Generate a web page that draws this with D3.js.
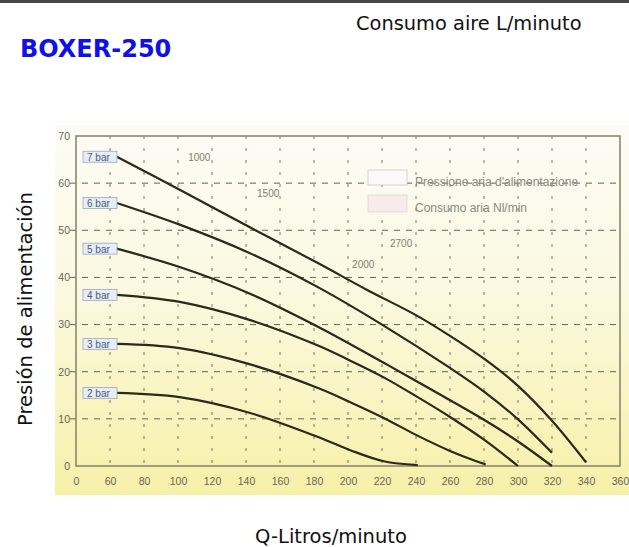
<!DOCTYPE html>
<html><head><meta charset="utf-8">
<script src="https://cdn.jsdelivr.net/npm/d3@7/dist/d3.min.js"></script>
<style>html,body{margin:0;padding:0;background:#fff;}svg{display:block;}</style>
</head><body>
<script>
// ---- data ----
const xTicks = [40,60,80,100,120,140,160,180,200,220,240,260,280,300,320,340,360];
const xTickLabels = ["0","60","80","100","120","140","160","180","200","220","240","260","280","300","320","340","360"];
const yTicks = [0,10,20,30,40,50,60,70];
const seriesNames = ["7 bar","6 bar","5 bar","4 bar","3 bar","2 bar"];
const bar7 = [[64,65.6],[101,58.6],[142,50.7],[182,43.1],[211,37.4],[241,31.8],[260,27.6],[281,22.5],[300,17.0],[320,9.6],[340,0.8]];
const bar6 = [[64,55.8],[101,51.2],[142,45.2],[182,38],[220,30],[260,20.8],[280,15.8],[300,9.9],[320,2.8]];
const bar5 = [[64,46.1],[101,42.2],[142,36.6],[182,29.6],[223,21.5],[250,16],[280,9.8],[300,5.2],[320,0]];
const bar4 = [[64,36.3],[101,34.8],[142,31],[182,25.6],[201,22.4],[221,18.8],[241,14.6],[260,10.4],[280,5.6],[300,0]];
const bar3 = [[64,25.9],[101,25],[142,21.6],[182,16.6],[201,13.6],[221,10.2],[240,6.6],[260,3.2],[281,0.3]];
const bar2 = [[64,15.5],[101,14.6],[142,11.3],[182,6.2],[201,3.4],[221,1.0],[241,0.2]];
const airLabels = ["1000","1500","2700","2000"];
const airLabelPos = [[106,64.7],[146.5,57.1],[224.7,46.5],[202.4,42.0]];
const legendLabels = ["Pressione aria d'alimentazione","Consumo aria Nl/min"];

// ---- layout ----
const W = 629, H = 547;
const svg = d3.select("body").append("svg").attr("width", W).attr("height", H);
const x = d3.scaleLinear().domain([40,360]).range([76,620]);
const y = d3.scaleLinear().domain([0,70]).range([466,136]);

svg.append("rect").attr("x",0).attr("y",0).attr("width",W).attr("height",3).attr("fill","#474747");

svg.append("text").attr("x",356).attr("y",30).attr("font-family","DejaVu Sans")
  .attr("font-size",19.4).attr("fill","#111").text("Consumo aire L/minuto");
svg.append("text").attr("x",20).attr("y",57).attr("font-family","DejaVu Sans")
  .attr("font-weight","bold").attr("font-size",24).attr("fill","#1010e8").text("BOXER-250");

// scanned-looking background
const defs = svg.append("defs");
const g = defs.append("linearGradient").attr("id","bg").attr("x1",0).attr("y1",0).attr("x2",0).attr("y2",1);
g.append("stop").attr("offset","0%").attr("stop-color","#fcfcf6");
g.append("stop").attr("offset","45%").attr("stop-color","#fbf9e0");
g.append("stop").attr("offset","100%").attr("stop-color","#f7f0a8");
svg.append("rect").attr("x",55).attr("y",125).attr("width",W-55).attr("height",370).attr("fill","url(#bg)");

// grid
const grid = svg.append("g");
grid.selectAll("line.h").data(yTicks.filter(d=>d>0&&d<70)).join("line")
  .attr("x1",70).attr("x2",620).attr("y1",d=>y(d)).attr("y2",d=>y(d))
  .attr("stroke","#4a4a40").attr("stroke-width",1).attr("stroke-dasharray","6,6").attr("opacity",0.85);
grid.selectAll("line.v").data(xTicks.slice(1,-1)).join("line")
  .attr("x1",d=>x(d)).attr("x2",d=>x(d)).attr("y1",136).attr("y2",466)
  .attr("stroke","#4a4a40").attr("stroke-width",1).attr("stroke-dasharray","3,9").attr("opacity",0.75);

// frame
svg.append("rect").attr("x",x(40)).attr("y",y(70)).attr("width",x(360)-x(40)).attr("height",y(0)-y(70))
  .attr("fill","none").attr("stroke","#8a8870").attr("stroke-width",1.6);

// axes
const xAxis = d3.axisBottom(x).tickValues(xTicks).tickSize(0).tickPadding(12)
  .tickFormat((d,i)=>xTickLabels[i]);
const xa = svg.append("g").attr("transform",`translate(0,${y(0)})`).call(xAxis);
xa.select(".domain").remove();
xa.selectAll("text").attr("font-family","Liberation Sans").attr("font-size",10.5).attr("fill","#66665a");
const yAxis = d3.axisLeft(y).tickValues(yTicks).tickSize(0).tickPadding(6);
const ya = svg.append("g").attr("transform",`translate(${x(40)},0)`).call(yAxis);
ya.select(".domain").remove();
ya.selectAll("text").attr("font-family","Liberation Sans").attr("font-size",10.5).attr("fill","#66665a");

// curves
const series = [bar7,bar6,bar5,bar4,bar3,bar2];
const line = d3.line().x(d=>x(d[0])).y(d=>y(d[1])).curve(d3.curveCatmullRom.alpha(0.5));
svg.append("g").selectAll("path").data(series).join("path")
  .attr("d",line).attr("fill","none").attr("stroke","#2a2a1c").attr("stroke-width",2.2);

// series labels
const lab = svg.append("g").selectAll("g").data(series).join("g")
  .attr("transform",d=>`translate(${x(40)+7},${y(d[0][1])})`);
lab.append("rect").attr("x",0).attr("y",-5.5).attr("width",34).attr("height",11)
  .attr("fill","#e6edf5").attr("stroke","#9aa8c0").attr("stroke-width",0.8);
lab.append("text").attr("x",4).attr("y",4).attr("font-family","Liberation Sans").attr("font-size",10)
  .attr("fill","#4a5a80").text((d,i)=>seriesNames[i]);

// air consumption labels
svg.append("g").selectAll("text").data(airLabels).join("text")
  .attr("x",(d,i)=>x(airLabelPos[i][0])).attr("y",(d,i)=>y(airLabelPos[i][1]))
  .attr("font-family","Liberation Sans").attr("font-size",10).attr("fill","#808070").text(d=>d);

// legend
const lg = svg.append("g").attr("transform","translate(368,170)");
lg.append("rect").attr("x",0).attr("y",0).attr("width",39).attr("height",15)
  .attr("fill","#fafafa").attr("stroke","#c4c8d4").attr("stroke-width",0.8);
lg.append("rect").attr("x",0).attr("y",25).attr("width",39).attr("height",17)
  .attr("fill","#f6ecec").attr("stroke","#e2d4d4").attr("stroke-width",0.8);
lg.selectAll("text").data(legendLabels).join("text")
  .attr("x",47).attr("y",(d,i)=>16+i*26).attr("font-family","Liberation Sans").attr("font-size",12)
  .attr("fill","#8a8a80").text(d=>d);

// axis titles
svg.append("text").attr("x",331).attr("y",543).attr("text-anchor","middle").attr("font-family","DejaVu Sans")
  .attr("font-size",19.5).attr("fill","#111").text("Q-Litros/minuto");
svg.append("text").attr("transform","translate(32,309) rotate(-90)").attr("text-anchor","middle")
  .attr("font-family","DejaVu Sans").attr("font-size",19.5).attr("fill","#111").text("Presión de alimentación");
</script>
</body></html>
